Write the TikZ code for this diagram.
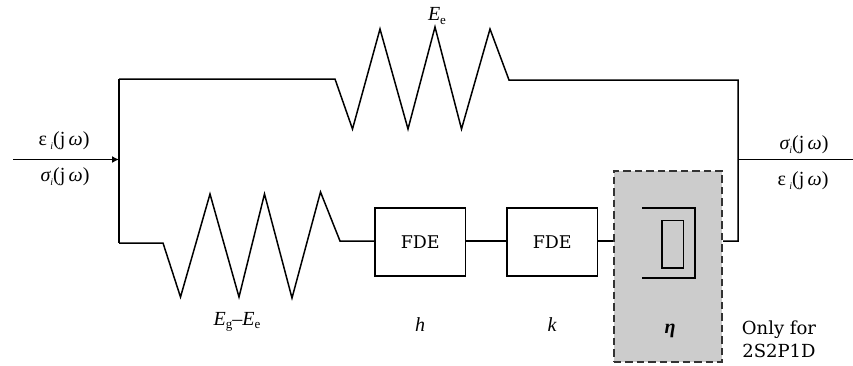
\documentclass[tikz,border=0pt]{standalone}
\usepackage{fontspec}
\usetikzlibrary{arrows.meta}
\setmainfont{DejaVu Serif}
\newfontfamily\symf{Liberation Serif}
\tikzset{
  wire/.style={line width=1.5pt,line join=miter},
  fdebox/.style={draw,line width=1.5pt,minimum width=90.5pt,minimum height=68pt,inner sep=0pt,font=\fontsize{17.5}{19}\selectfont},
  lab/.style={inner sep=0pt,font=\symf\fontsize{20}{22}\selectfont},
  note/.style={inner sep=0pt,align=center,font=\fontsize{18}{23}\selectfont}
}
\newcommand{\sbx}[1]{\raisebox{-0.35ex}{\fontsize{13}{14}\selectfont #1}}
\newcommand{\sbi}{\raisebox{-0.35ex}{\fontsize{10}{11}\selectfont\itshape i}}
\begin{document}
\begin{tikzpicture}[x=1pt,y=-1pt]
\useasboundingbox (0,0) rectangle (853,365);
% dashed region
\node[draw=black!80,fill=black!20,line width=2pt,dash pattern=on 7.5pt off 4pt,minimum width=108.5pt,minimum height=191pt,inner sep=0pt] (dash) at (667.75,266) {};
% FDE boxes
\node[fdebox] (f1) at (420.25,242) {FDE};
\node[fdebox] (f2) at (552.25,242) {FDE};
% junctions
\coordinate (inS) at (13,159.5);
\coordinate (inJ) at (119,159.5);
\coordinate (outJ) at (738,159.5);
\coordinate (outE) at (853,159.5);
\coordinate (tl) at (119,79);
\coordinate (bl) at (119,243);
\coordinate (tr) at (738,80);
\coordinate (br) at (738,241);
\draw[wire,-{Latex[length=7pt,width=7pt]}] (inS) -- (inJ);
\draw[wire] (outJ) -- (outE);
% upper branch
\draw[wire] (tl) -- (335,79) -- (352.5,129) -- (380,29) -- (408,129) -- (435,27) -- (461.5,129) -- (490,29) -- (509,80) -- (tr) -- (br) -- (br -| dash.east);
\draw[wire] (tl) -- (bl);
% lower branch
\draw[wire] (bl) -- (163,243) -- (180.5,297) -- (210,194) -- (239,297) -- (264.5,194) -- (292,298) -- (320.5,192) -- (340,241) -- (f1.west |- 0,241);
\draw[wire] (f1.east |- 0,241) -- (f2.west |- 0,241);
\draw[wire] (f2.east |- 0,241) -- (dash.west |- 0,241);
% dashpot
\coordinate (dpa) at (642,208);
\coordinate (dpb) at (695,208);
\coordinate (dpc) at (695,278);
\coordinate (dpd) at (642,278);
\draw[wire] (dpa) -- (dpb) -- (dpc) -- (dpd);
\node[draw,line width=1.7pt,minimum width=21.5pt,minimum height=47.5pt,inner sep=0pt] (piston) at (672.75,244.25) {};
% labels
\node[lab] (ee) at (437,16) {\itshape E\/\sbx{\upshape e}};
\node[lab] (l1) at (64,141) {ε\,\sbi(j\,\itshape ω\upshape)};
\node[lab] (l2) at (65,177) {\itshape σ\sbi\upshape(j\,\itshape ω\upshape)};
\node[lab] (r1) at (804,145) {\itshape σ\sbi\upshape(j\,\itshape ω\upshape)};
\node[lab] (r2) at (803,181) {ε\,\sbi(j\,\itshape ω\upshape)};
\node[lab] (eg) at (237,322) {\itshape E\/\sbx{\upshape g}\upshape–\itshape E\/\sbx{\upshape e}};
\node[lab] (h) at (420,325) {\itshape h};
\node[lab] (k) at (552,325) {\itshape k};
\node[lab] (eta) at (670,331) {\bfseries\itshape η};
\node[note] (only) at (779,339.5) {Only for\\2S2P1D};
\end{tikzpicture}
\end{document}
